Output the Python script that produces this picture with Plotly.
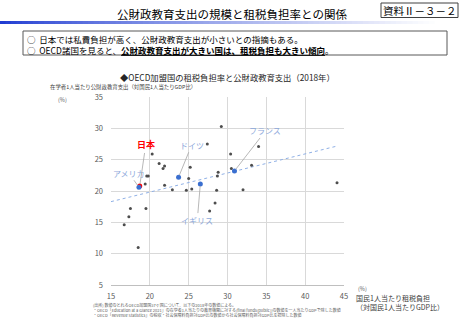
import numpy as np
import plotly.graph_objects as go

# ---- data (x: tax burden % of GDP per capita, y: public education spending per student % of GDP per capita)
other_x = [29.2, 27.4, 20.3, 21.2, 21.9, 21.7, 19.6, 19.8, 25.2, 25.0, 19.4, 21.9, 22.9, 24.7,
           25.4, 28.6, 28.7, 28.8, 30.4, 30.5, 28.4, 27.7, 17.5, 19.5, 17.3, 16.7, 34.0, 32.0,
           33.1, 44.1, 18.5]
other_y = [30.3, 27.5, 25.9, 24.4, 24.0, 23.6, 22.4, 22.4, 23.8, 22.0, 21.1, 20.9, 20.2, 20.1,
           20.3, 20.1, 22.4, 23.0, 25.9, 23.6, 18.1, 16.8, 17.2, 17.2, 15.9, 14.6, 27.1, 20.2,
           24.1, 21.3, 11.0]
hl_names = ["ドイツ", "イギリス", "フランス", "アメリカ"]
hl_x = [23.7, 26.5, 30.9, 18.6]
hl_y = [22.2, 21.1, 23.2, 20.6]
jp_name = "日本"
jp_x = [18.7]
jp_y = [20.8]
# linear trend line as drawn in the reference (end points)
trend_x = [15.0, 44.2]
trend_y = [18.3, 27.2]

x_ticks = [15, 20, 25, 30, 35, 40, 45]
y_ticks = [5, 10, 15, 20, 25, 30, 35]

W, H = 462, 320
L, R, T, B = 111, 344, 97, 285


def px(x):
    return (x - L) / (R - L)


def py(y):
    return (B - y) / (B - T)


fig = go.Figure()
fig.add_trace(go.Scatter(x=trend_x, y=trend_y, mode="lines",
                         line=dict(color="#8FB0E6", width=1, dash="dot"),
                         hoverinfo="skip", showlegend=False))
fig.add_trace(go.Scatter(x=other_x, y=other_y, mode="markers",
                         marker=dict(color="#4D4D4D", size=3), showlegend=False))
fig.add_trace(go.Scatter(x=jp_x, y=jp_y, mode="markers",
                         marker=dict(color="#FF0000", size=5), showlegend=False))
fig.add_trace(go.Scatter(x=hl_x, y=hl_y, mode="markers",
                         marker=dict(color="#3A6FD0", size=5), showlegend=False))

ann = []
offs = {"ドイツ": (13, -32), "イギリス": (-3, 36), "フランス": (31, -40), "アメリカ": (-10, -14)}
for n, x, y in zip(hl_names, hl_x, hl_y):
    ax, ay = offs[n]
    ann.append(dict(x=x, y=y, xref="x", yref="y", text=n, showarrow=True, arrowhead=0,
                    arrowcolor="#A6A6A6", arrowwidth=0.8, ax=ax, ay=ay, standoff=2,
                    font=dict(size=8, color="#8EA9DB", family="Noto Sans CJK JP")))
ann.append(dict(x=jp_x[0], y=jp_y[0], xref="x", yref="y", text="<b>" + jp_name + "</b>", showarrow=True,
                arrowhead=0, arrowcolor="#A6A6A6", arrowwidth=0.8, ax=6, ay=-41, standoff=2,
                font=dict(size=9, color="#FF0000", family="Noto Sans CJK JP")))


def txt(x, y, s, size, color="#000000", xanchor="center", yanchor="middle", align="center"):
    ann.append(dict(x=px(x), y=py(y), xref="paper", yref="paper", text=s, showarrow=False,
                    xanchor=xanchor, yanchor=yanchor, align=align, borderpad=0,
                    font=dict(size=size, color=color, family="Noto Sans CJK JP")))


txt(232, 14, "公財政教育支出の規模と租税負担率との関係", 11.5)
txt(419.5, 10.5, "資料Ⅱ－３－２", 10.5)
txt(26, 44, "○  日本では私費負担が高く、公財政教育支出が小さいとの指摘もある。<br>"
            "○  OECD諸国を見ると、<b><u>公財政教育支出が大きい国は、租税負担も大きい傾向</u></b>。",
    8.5, xanchor="left", align="left")
txt(227, 77.5, "◆OECD加盟国の租税負担率と公財政教育支出（2018年）", 8.3, color="#262626")
txt(49, 87.2, "在学者1人当たり公財政教育支出（対国民1人当たりGDP比）", 5.4, color="#404040", xanchor="left")
txt(62, 100, "(%)", 5.5, color="#595959")
txt(357, 289, "(%)", 5.5, color="#595959", xanchor="left")
txt(355, 302.5, "国民1人当たり租税負担<br>（対国民1人当たりGDP比）", 7, color="#404040", xanchor="left", align="left")
txt(92, 309.5, "(出所) 数値のとれるOECD加盟国37ヶ国について、以下の2018年の数値による。<br>"
               "・OECD「Education at a Glance 2021」の在学者1人当たりの教育機関に対する(final funds(public))の数値を一人当たりGDPで除した数値<br>"
               "・OECD「Revenue Statistics」の税収・社会保障料負担対GDP比の数値から社会保障料負担対GDP比を控除した数値",
    4, color="#595959", xanchor="left", align="left")

shapes = []
n = 80
c0 = np.array([32, 60, 210])
c1 = np.array([255, 255, 255])
for i in range(n):
    t = i / (n - 1)
    f = min(1.0, t ** 0.8)
    c = (c0 * (1 - f) + c1 * f).astype(int)
    x0 = i * 440 / n
    shapes.append(dict(type="rect", xref="paper", yref="paper",
                       x0=px(x0), x1=px(x0 + 440 / n + 0.5), y0=py(24), y1=py(21),
                       line=dict(width=0), fillcolor=f"rgb({c[0]},{c[1]},{c[2]})", layer="below"))
shapes.append(dict(type="rect", xref="paper", yref="paper", x0=px(381), x1=px(458), y0=py(17.5), y1=py(3),
                   line=dict(color="#404040", width=1)))
shapes.append(dict(type="rect", xref="paper", yref="paper", x0=px(23), x1=px(447), y0=py(55), y1=py(31),
                   line=dict(color="#595959", width=1)))

fig.update_layout(
    width=W, height=H, autosize=False,
    margin=dict(l=L, r=W - R, t=T, b=H - B),
    paper_bgcolor="white", plot_bgcolor="white",
    annotations=ann, shapes=shapes, showlegend=False,
    font=dict(family="Noto Sans CJK JP"),
)
fig.update_xaxes(range=[15, 45], tickvals=x_ticks, showgrid=True, gridcolor="#D9D9D9", gridwidth=1,
                 showline=True, linecolor="#BFBFBF", zeroline=False, ticks="", ticklabelstandoff=4,
                 tickfont=dict(size=7.5, color="#595959"), fixedrange=True)
fig.update_yaxes(range=[5, 35], tickvals=y_ticks, showgrid=True, gridcolor="#D9D9D9", gridwidth=1,
                 showline=False, zeroline=False, ticks="", ticklabelstandoff=7,
                 tickfont=dict(size=7.5, color="#595959"), fixedrange=True)

fig.write_html("out.html")
